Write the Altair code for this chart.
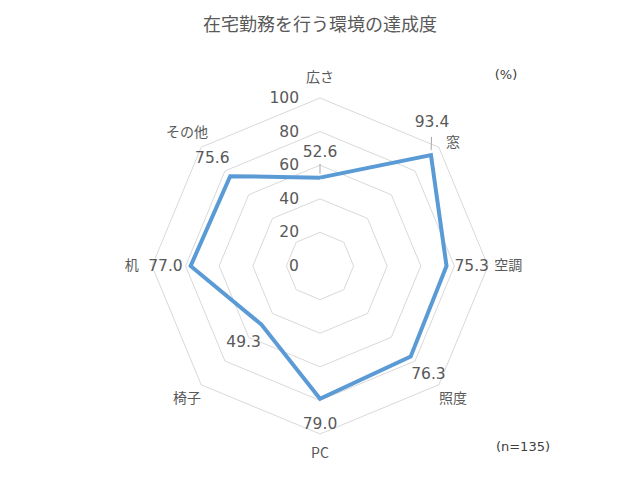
import altair as alt
import pandas as pd

# ---- data ----
categories = ["広さ", "窓", "空調", "照度", "PC", "椅子", "机", "その他"]
values = [52.6, 93.4, 75.3, 76.3, 79.0, 49.3, 77.0, 75.6]
grid_levels = [20, 40, 60, 80, 100]
tick_values = [0, 20, 40, 60, 80, 100]

# ---- layout / style settings ----
GRAY_TEXT = "#595959"
GRID = "#D9D9D9"
LINE = "#5B9BD5"
CJK = "Noto Sans CJK JP"
NUM = "DejaVu Sans"
CAT_R = 112          # radius of category labels (data units)
VAL_PAD = 15         # value label distance beyond the point (data units)
VAL_NUDGE = {"窓": (-10, 9)}   # value label nudge (data units)
CAT_NUDGE = {"窓": (0, -6)}    # category label nudge (data units)
LEADERS = {"広さ", "窓"}       # value labels drawn with a leader line

n = len(categories)
ANG = "datum.k * PI / 4"

series_df = pd.DataFrame({
    "value": values + [values[0]],
    "k": list(range(n)) + [0],
    "order": list(range(n + 1)),
})
grid_df = pd.DataFrame(
    [{"level": L, "k": i % n, "order": i} for L in grid_levels for i in range(n + 1)]
)
cat_df = pd.DataFrame({
    "cat": categories,
    "k": list(range(n)),
    "nx": [CAT_NUDGE.get(c, (0, 0))[0] for c in categories],
    "ny": [CAT_NUDGE.get(c, (0, 0))[1] for c in categories],
})
val_df = pd.DataFrame({
    "cat": categories,
    "value": values,
    "k": list(range(n)),
    "nx": [VAL_NUDGE.get(c, (0, 0))[0] for c in categories],
    "ny": [VAL_NUDGE.get(c, (0, 0))[1] for c in categories],
    "leader": [c in LEADERS for c in categories],
})
tick_df = pd.DataFrame({"tick": tick_values})
note_df = pd.DataFrame({"txt": ["(%)", "(n=135)"], "x": [110.7, 120.8], "y": [113.7, -107.7]})

xs = alt.Scale(domain=[-185.7, 185.7], nice=False, zero=False)
ys = alt.Scale(domain=[-126.19, 129.76], nice=False, zero=False)
X = alt.X("x:Q", scale=xs, axis=None)
Y = alt.Y("y:Q", scale=ys, axis=None)

grid = alt.Chart(grid_df).transform_calculate(
    ang=ANG
).transform_calculate(
    x="datum.level * sin(datum.ang)", y="datum.level * cos(datum.ang)"
).mark_line(color=GRID, strokeWidth=1).encode(
    x=X, y=Y, detail="level:N", order="order:Q"
)

series = alt.Chart(series_df).transform_calculate(
    ang=ANG
).transform_calculate(
    x="datum.value * sin(datum.ang)", y="datum.value * cos(datum.ang)"
).mark_line(color=LINE, strokeWidth=4, strokeJoin="miter").encode(
    x=X, y=Y, order="order:Q"
)

cat_labels = alt.Chart(cat_df).transform_calculate(
    ang=ANG
).transform_calculate(
    x=f"{CAT_R} * sin(datum.ang) + datum.nx", y=f"{CAT_R} * cos(datum.ang) + datum.ny"
).mark_text(font=CJK, fontSize=14, color=GRAY_TEXT, align="center", baseline="middle").encode(
    x=X, y=Y, text="cat:N"
)

val_base = alt.Chart(val_df).transform_calculate(
    ang=ANG
).transform_calculate(
    px="datum.value * sin(datum.ang)",
    py="datum.value * cos(datum.ang)",
    x=f"(datum.value + {VAL_PAD}) * sin(datum.ang) + datum.nx",
    y=f"(datum.value + {VAL_PAD}) * cos(datum.ang) + datum.ny",
)

val_labels = val_base.mark_text(
    font=NUM, fontSize=15.5, color=GRAY_TEXT, align="center", baseline="middle"
).encode(x=X, y=Y, text=alt.Text("value:Q", format=".1f"))

leaders = val_base.transform_filter("datum.leader").transform_calculate(
    lx1="datum.px + 0.15 * (datum.x - datum.px)",
    ly1="datum.py + 0.15 * (datum.y - datum.py)",
    lx2="datum.px + 0.55 * (datum.x - datum.px)",
    ly2="datum.py + 0.55 * (datum.y - datum.py)",
).mark_rule(color="#A6A6A6", strokeWidth=1).encode(
    x=alt.X("lx1:Q", scale=xs, axis=None), y=alt.Y("ly1:Q", scale=ys, axis=None),
    x2="lx2:Q", y2="ly2:Q",
)

tick_labels = alt.Chart(tick_df).transform_calculate(
    x="-12.5", y="datum.tick"
).mark_text(font=NUM, fontSize=15.5, color=GRAY_TEXT, align="right", baseline="middle").encode(
    x=X, y=Y, text="tick:Q"
)

notes = alt.Chart(note_df).mark_text(
    font=NUM, fontSize=13, color="#404040", align="center", baseline="middle"
).encode(x=X, y=Y, text="txt:N")

chart = alt.layer(grid, leaders, series, cat_labels, val_labels, tick_labels, notes).properties(
    width=624,
    height=430,
    padding={"top": 40, "left": 0, "right": 0, "bottom": 0},
    autosize=alt.AutoSizeParams(type="none"),
    title=alt.TitleParams(
        "在宅勤務を行う環境の達成度", font=CJK, fontSize=18, fontWeight="normal",
        color=GRAY_TEXT, anchor="middle", offset=13,
    ),
).configure_view(stroke=None)

chart.save("out.html", embed_options={"renderer": "svg", "actions": False})
